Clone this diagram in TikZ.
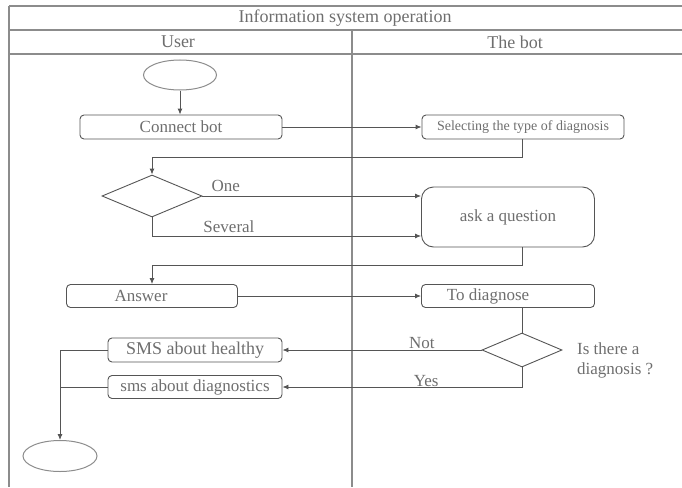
\documentclass[tikz,border=0pt]{standalone}
\usepackage{fontspec}
\setmainfont{Liberation Serif}
\usetikzlibrary{shapes.geometric,arrows.meta,calc}
\definecolor{txt}{RGB}{110,110,110}
\definecolor{ln}{RGB}{85,85,85}
\definecolor{frm}{RGB}{140,140,140}
\tikzset{
  frame/.style={draw=frm, line width=1.1pt},
  box/.style={draw=ln, line width=0.9pt, rounded corners=4pt, rectangle, inner sep=0pt, text=txt, font=\fontsize{17}{19}\selectfont},
  oval/.style={draw=frm, line width=1pt, ellipse, inner sep=0pt},
  dia/.style={draw=ln, line width=0.9pt, diamond, inner sep=0pt},
  conn/.style={draw=ln, line width=0.9pt},
  arr/.style={conn, -{Latex[length=6pt,width=5pt]}},
  lbl/.style={text=txt, font=\fontsize{17}{20}\selectfont, inner sep=0pt},
}
\begin{document}
\begin{tikzpicture}[x=1pt,y=-1pt]
\useasboundingbox (0,0) rectangle (682,487);
% frame
\draw[frame] (9,6) -- (682,6);
\draw[frame] (9,30) -- (682,30);
\draw[frame] (9,54) -- (682,54);
\draw[frame] (9,6) -- (9,487);
\draw[frame] (352,30) -- (352,487);
\node[lbl, font=\fontsize{18}{20}\selectfont] (title) at (345,18) {Information system operation};
\node[lbl, font=\fontsize{18}{20}\selectfont] (huser) at (178,42) {User};
\node[lbl, font=\fontsize{18}{20}\selectfont] (hbot) at (515,42) {The bot};
% nodes
\node[oval, minimum width=73pt, minimum height=30pt] (start) at (180,75) {};
\node[box, minimum width=202pt, minimum height=24pt] (connect) at (181,127) {Connect bot};
\node[box, minimum width=202pt, minimum height=24pt, font=\fontsize{14}{16}\selectfont] (select) at (523,127) {Selecting the type of diagnosis};
\node[dia, minimum width=100pt, minimum height=42pt] (dec1) at (152,196) {};
\node[box, minimum width=173pt, minimum height=60pt, rounded corners=12pt] (ask) at (508,217) {ask a question};
\node[box, minimum width=171pt, minimum height=23pt] (answer) at (152,296) {\hspace*{-22pt}Answer};
\node[box, minimum width=173pt, minimum height=23pt] (diag) at (508,296) {\hspace*{-40pt}To diagnose};
\node[dia, minimum width=80pt, minimum height=34pt] (dec2) at (522,350) {};
\node[box, minimum width=174pt, minimum height=24pt, font=\fontsize{18}{20}\selectfont] (healthy) at (195,350) {\raisebox{-4pt}{SMS about healthy}};
\node[box, minimum width=174pt, minimum height=23pt] (sms) at (195,387) {sms about diagnostics};
\node[oval, minimum width=74pt, minimum height=31pt] (endnode) at (60,456) {};
\node[lbl, anchor=west, align=left] (q) at (577,360) {Is there a\\diagnosis ?};
% connectors
\coordinate (b1) at (152,157);
\coordinate (b3) at (152,265);
\coordinate (b4) at (60,350);
\draw[arr] (start.south) -- (connect.north -| start.south);
\draw[arr] (connect.east) -- (select.west);
\draw[arr] ($(select.south)+(-1,0)$) |- (b1) -- (dec1.north);
\draw[arr] (dec1.east) -- (dec1.east -| ask.west) node[lbl, pos=0.04, anchor=south west, yshift=4pt] (lone) {One};
\draw[arr] (dec1.south) |- ($(ask.west)+(0,19)$) node[lbl, pos=0.643, anchor=south, yshift=3pt] (lsev) {Several};
\draw[arr] ($(ask.south)+(14,0)$) |- (b3) -- (answer.north);
\draw[arr] (answer.east) -- (answer.east -| diag.west);
\draw[conn] (dec2.north |- diag.south) -- (dec2.north);
\draw[arr] (dec2.west) -- (healthy.east) node[lbl, pos=0.3, anchor=south, yshift=1pt] (lnot) {Not};
\draw[arr] (dec2.south) |- (sms.east) node[lbl, pos=0.7, anchor=south, yshift=0pt] (lyes) {Yes};
\draw[conn] (healthy.west) -- (b4);
\draw[conn] (sms.west) -- (b4 |- sms.west);
\draw[arr] (b4) -- (endnode.north);
\end{tikzpicture}
\end{document}
